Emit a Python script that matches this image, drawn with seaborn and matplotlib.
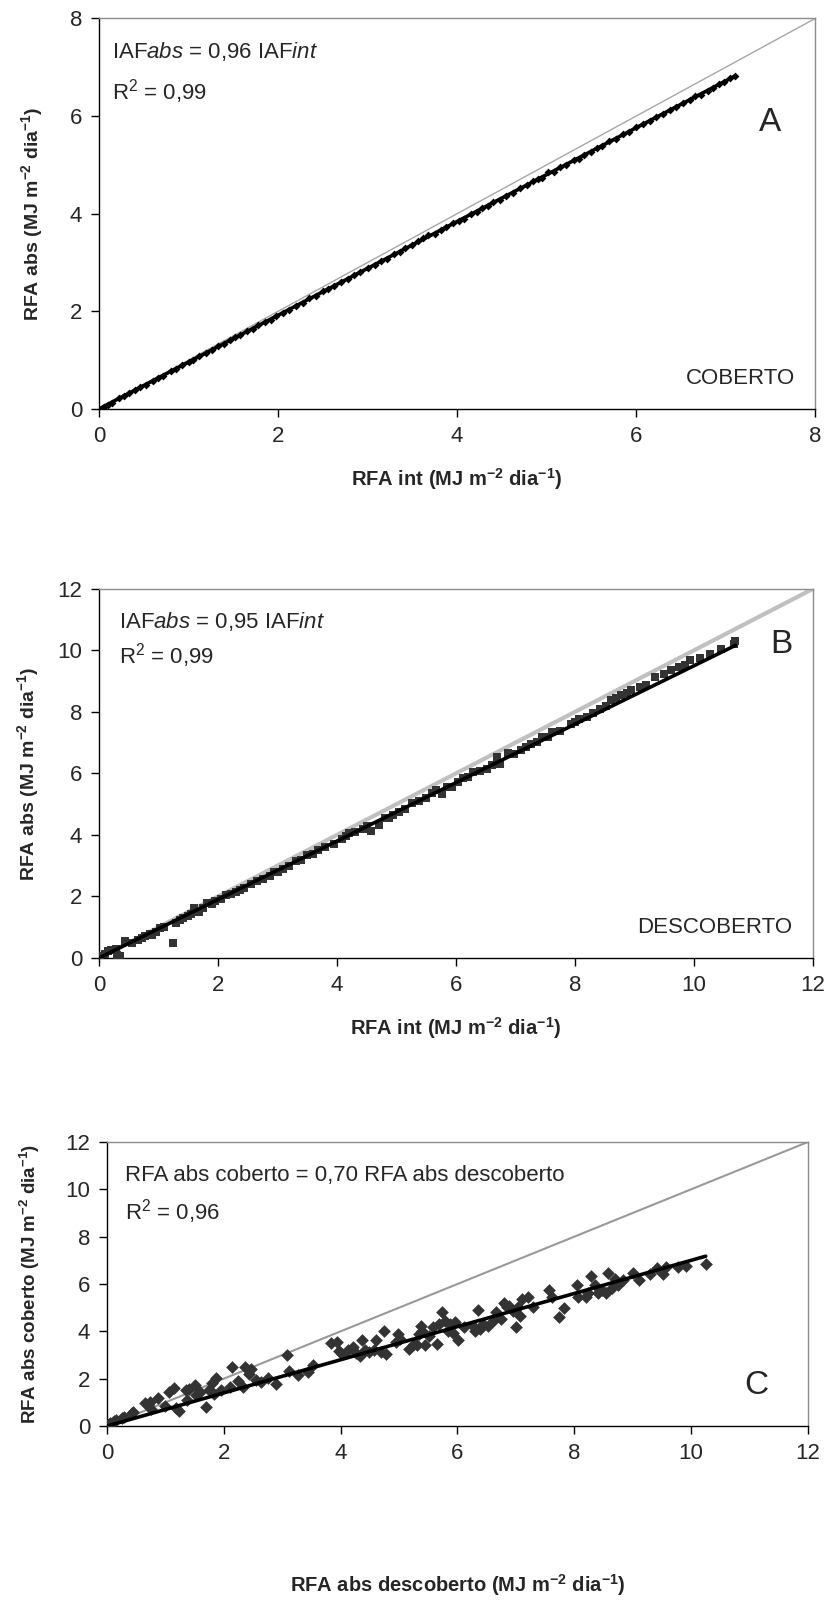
import matplotlib
matplotlib.use("Agg")
import matplotlib.pyplot as plt
import seaborn as sns
import numpy as np
import pandas as pd

# ---------------- DATA ----------------
# Panel A (COBERTO): RFA int vs RFA abs
a_x = [0.05, 0.10, 0.15, 0.22, 0.28, 0.33, 0.40, 0.46, 0.52, 0.60, 0.66, 0.72, 0.80, 0.86, 0.93,
       1.00, 1.05, 1.12, 1.20, 1.26, 1.33, 1.40, 1.46, 1.52, 1.58, 1.65, 1.72, 1.78, 1.85, 1.92,
       1.98, 2.05, 2.12, 2.20, 2.28, 2.35, 2.42, 2.50, 2.56, 2.62, 2.70, 2.78, 2.85, 2.92, 3.00,
       3.08, 3.15, 3.22, 3.30, 3.36, 3.42, 3.50, 3.56, 3.62, 3.68, 3.75, 3.82, 3.88, 3.95, 4.02,
       4.08, 4.15, 4.22, 4.28, 4.35, 4.40, 4.48, 4.55, 4.62, 4.70, 4.78, 4.85, 4.90, 4.95, 5.02,
       5.08, 5.15, 5.22, 5.30, 5.36, 5.42, 5.50, 5.56, 5.62, 5.70, 5.78, 5.85, 5.92, 6.00, 6.08,
       6.15, 6.22, 6.30, 6.38, 6.45, 6.52, 6.60, 6.66, 6.72, 6.80, 6.86, 6.92, 6.98, 7.05, 7.10]
a_y = [0.03, 0.09, 0.13, 0.22, 0.26, 0.33, 0.38, 0.45, 0.49, 0.58, 0.64, 0.68, 0.78, 0.82, 0.89,
       0.96, 1.00, 1.08, 1.14, 1.21, 1.29, 1.33, 1.42, 1.48, 1.51, 1.60, 1.64, 1.71, 1.79, 1.83,
       1.90, 1.97, 2.02, 2.11, 2.18, 2.27, 2.31, 2.42, 2.45, 2.51, 2.60, 2.66, 2.74, 2.80, 2.89,
       2.94, 3.03, 3.08, 3.18, 3.22, 3.30, 3.36, 3.44, 3.50, 3.56, 3.58, 3.66, 3.72, 3.80, 3.86,
       3.90, 4.00, 4.03, 4.12, 4.16, 4.24, 4.29, 4.37, 4.42, 4.52, 4.58, 4.66, 4.72, 4.74, 4.86,
       4.86, 4.95, 5.00, 5.10, 5.13, 5.21, 5.27, 5.35, 5.38, 5.48, 5.54, 5.63, 5.68, 5.77, 5.84,
       5.90, 5.98, 6.04, 6.13, 6.18, 6.27, 6.32, 6.42, 6.44, 6.52, 6.58, 6.65, 6.69, 6.77, 6.82]
a_slope = 0.96
a_xmax = 7.1

# Panel B (DESCOBERTO)
b_x = [0.02, 0.10, 0.15, 0.20, 0.28, 0.31, 0.35, 0.44, 0.55, 0.66, 0.72, 0.78, 0.85, 0.89, 0.95,
       1.02, 1.10, 1.24, 1.29, 1.36, 1.42, 1.50, 1.55, 1.60, 1.68, 1.75, 1.82, 1.90, 1.95, 2.05,
       2.13, 2.22, 2.30, 2.37, 2.44, 2.55, 2.66, 2.75, 2.88, 2.95, 3.01, 3.10, 3.20, 3.32, 3.40,
       3.50, 3.60, 3.68, 3.80, 3.95, 4.08, 4.15, 4.21, 4.30, 4.43, 4.50, 4.57, 4.70, 4.80, 4.88,
       4.95, 5.05, 5.15, 5.27, 5.38, 5.50, 5.60, 5.67, 5.76, 5.85, 5.94, 6.03, 6.12, 6.20, 6.29,
       6.40, 6.52, 6.60, 6.69, 6.74, 6.87, 6.98, 7.09, 7.18, 7.27, 7.36, 7.45, 7.55, 7.62, 7.75,
       7.93, 8.00, 8.07, 8.20, 8.30, 8.42, 8.52, 8.60, 8.70, 8.78, 8.88, 8.95, 9.09, 9.20, 9.35,
       9.50, 9.62, 9.75, 9.85, 9.93, 10.10, 10.28, 10.45, 10.68, 10.70]
b_y = [0.05, 0.12, 0.22, 0.25, 0.28, 0.11, 0.05, 0.54, 0.50, 0.59, 0.66, 0.70, 0.78, 0.76, 0.86,
       0.97, 1.02, 0.49, 1.14, 1.25, 1.30, 1.38, 1.42, 1.62, 1.51, 1.64, 1.78, 1.74, 1.84, 1.92,
       2.05, 2.08, 2.16, 2.22, 2.27, 2.40, 2.49, 2.58, 2.65, 2.78, 2.81, 2.90, 3.00, 3.14, 3.18,
       3.35, 3.38, 3.51, 3.62, 3.70, 3.86, 3.96, 4.05, 4.10, 4.18, 4.28, 4.14, 4.32, 4.55, 4.54,
       4.66, 4.76, 4.86, 5.05, 5.10, 5.19, 5.35, 5.46, 5.33, 5.56, 5.57, 5.72, 5.84, 5.88, 6.05,
       6.09, 6.14, 6.28, 6.54, 6.30, 6.65, 6.64, 6.76, 6.86, 6.97, 7.02, 7.19, 7.20, 7.35, 7.38,
       7.62, 7.66, 7.78, 7.84, 7.96, 8.11, 8.20, 8.38, 8.44, 8.54, 8.62, 8.70, 8.81, 8.88, 9.14,
       9.22, 9.35, 9.46, 9.52, 9.68, 9.74, 9.89, 10.05, 10.22, 10.32]
b_slope = 0.95
b_xmax = 10.7

# Panel C (coberto vs descoberto)
c_x = [0.03, 0.06, 0.12, 0.15, 0.25, 0.29, 0.42, 0.45, 0.65, 0.70, 0.74, 0.76, 0.88, 1.00, 1.06,
       1.15, 1.19, 1.24, 1.35, 1.37, 1.40, 1.51, 1.53, 1.60, 1.69, 1.74, 1.80, 1.83, 1.87, 1.96,
       2.10, 2.14, 2.25, 2.32, 2.37, 2.43, 2.46, 2.55, 2.64, 2.75, 2.89, 3.09, 3.12, 3.27, 3.44,
       3.52, 3.84, 3.93, 3.97, 4.02, 4.13, 4.22, 4.27, 4.33, 4.37, 4.42, 4.49, 4.57, 4.61, 4.69,
       4.75, 4.78, 4.95, 4.99, 5.02, 5.17, 5.26, 5.31, 5.35, 5.37, 5.40, 5.44, 5.51, 5.58, 5.65,
       5.69, 5.74, 5.78, 5.83, 5.87, 5.92, 5.96, 6.01, 6.12, 6.26, 6.30, 6.35, 6.39, 6.44, 6.53,
       6.62, 6.66, 6.75, 6.80, 6.84, 6.89, 6.95, 7.01, 7.03, 7.07, 7.10, 7.21, 7.30, 7.57, 7.61,
       7.73, 7.82, 8.04, 8.07, 8.20, 8.24, 8.29, 8.36, 8.41, 8.47, 8.54, 8.58, 8.65, 8.70, 8.74,
       8.83, 9.01, 9.10, 9.29, 9.42, 9.51, 9.57, 9.78, 9.92, 10.25]
c_y = [0.10, 0.13, 0.20, 0.24, 0.33, 0.40, 0.55, 0.61, 0.99, 0.90, 1.01, 0.70, 1.18, 0.83, 1.42,
       1.61, 0.78, 0.65, 1.53, 1.10, 1.58, 1.74, 1.31, 1.42, 0.80, 1.53, 1.80, 1.37, 2.01, 1.53,
       1.64, 2.48, 1.91, 1.64, 2.48, 2.20, 2.39, 1.93, 1.85, 2.01, 1.77, 3.00, 2.34, 2.17, 2.28,
       2.58, 3.49, 3.57, 3.16, 3.04, 3.23, 3.34, 3.09, 2.95, 3.63, 3.23, 3.14, 3.20, 3.63, 3.14,
       4.00, 3.06, 3.57, 3.90, 3.68, 3.25, 3.47, 3.41, 3.90, 4.24, 4.00, 3.41, 3.79, 4.17, 3.47,
       4.33, 4.81, 4.44, 4.00, 4.33, 3.95, 4.38, 3.63, 4.17, 4.22, 4.00, 4.92, 4.11, 4.33, 4.22,
       4.46, 4.81, 4.52, 5.19, 5.03, 5.08, 4.84, 4.17, 5.03, 4.65, 5.35, 5.46, 5.03, 5.73, 5.43,
       4.60, 4.97, 5.96, 5.46, 5.46, 5.62, 6.32, 5.94, 5.62, 5.73, 5.64, 6.46, 5.84, 6.21, 5.96,
       6.16, 6.48, 6.18, 6.43, 6.67, 6.43, 6.72, 6.72, 6.75, 6.86]
c_slope = 0.70
c_xmax = 10.25

# ---------------- STYLE ----------------
sns.set_theme(style="white")
FONT = ["Liberation Sans", "Arial", "DejaVu Sans"]
plt.rcParams["font.family"] = FONT
plt.rcParams["mathtext.fontset"] = "custom"
plt.rcParams["mathtext.rm"] = "Liberation Sans"
plt.rcParams["mathtext.it"] = "Liberation Sans:italic"
plt.rcParams["mathtext.bf"] = "Liberation Sans:bold"
plt.rcParams["mathtext.default"] = "rm"

fig = plt.figure(figsize=(8.28, 16.03), dpi=100)

def style_axes(ax, lim):
    ax.set_xlim(0, lim)
    ax.set_ylim(0, lim)
    ax.set_xticks(np.arange(0, lim + 0.01, 2))
    ax.set_yticks(np.arange(0, lim + 0.01, 2))
    for s in ["left", "bottom"]:
        ax.spines[s].set_color("black")
        ax.spines[s].set_linewidth(1.0)
    for s in ["top", "right"]:
        ax.spines[s].set_color("#8c8c8c")
        ax.spines[s].set_linewidth(1.0)
    ax.tick_params(axis="both", which="major", direction="out", length=6, width=1,
                   color="black", labelsize=16, pad=6, bottom=True, left=True)
    ax.set_facecolor("white")

SUP = r" (MJ m$^{\mathbf{-2}}$ dia$^{\mathbf{-1}}$)"

# ---------- Panel A ----------
axA = fig.add_axes([0.1196, 0.7449, 0.865, 0.2436])
style_axes(axA, 8)
sns.lineplot(x=[0, 8], y=[0, 8], ax=axA, color="#a6a6a6", lw=1.0, zorder=1)
sns.scatterplot(x=a_x, y=a_y, ax=axA, marker="D", s=16, color="black", edgecolor="black",
                linewidth=0, zorder=3)
sns.lineplot(x=[0, a_xmax], y=[0, a_slope * a_xmax], ax=axA, color="black", lw=2.6, zorder=2)
axA.text(0.15, 7.33, r"IAF$\mathit{abs}$ = 0,96 IAF$\mathit{int}$", fontsize=16, va="center", ha="left")
axA.text(0.15, 6.50, r"R$^2$ = 0,99", fontsize=16, va="center", ha="left")
axA.text(7.49, 5.86, "A", fontsize=24, va="center", ha="center")
axA.text(7.77, 0.63, "COBERTO", fontsize=16, va="center", ha="right")
axA.set_xlabel("RFA int" + SUP, fontsize=14.5, fontweight="bold", labelpad=14)
axA.set_ylabel("RFA abs" + SUP, fontsize=14, fontweight="bold", labelpad=18)

# ---------- Panel B ----------
axB = fig.add_axes([0.1196, 0.4024, 0.862, 0.2302])
style_axes(axB, 12)
sns.lineplot(x=[0, 12], y=[0, 12], ax=axB, color="#c0c0c0", lw=3.0, zorder=1)
sns.scatterplot(x=b_x, y=b_y, ax=axB, marker="s", s=30, color="#333333", edgecolor="#333333",
                linewidth=0, zorder=3)
sns.lineplot(x=[0, b_xmax], y=[0, b_slope * b_xmax], ax=axB, color="black", lw=2.6, zorder=4)
axB.text(0.34, 10.94, r"IAF$\mathit{abs}$ = 0,95 IAF$\mathit{int}$", fontsize=16, va="center", ha="left")
axB.text(0.34, 9.85, r"R$^2$ = 0,99", fontsize=16, va="center", ha="left")
axB.text(11.48, 10.2, "B", fontsize=24, va="center", ha="center")
axB.text(11.66, 1.0, "DESCOBERTO", fontsize=16, va="center", ha="right")
axB.set_xlabel("RFA int" + SUP, fontsize=14.5, fontweight="bold", labelpad=14)
axB.set_ylabel("RFA abs" + SUP, fontsize=14, fontweight="bold", labelpad=12)

# ---------- Panel C ----------
axC = fig.add_axes([0.1292, 0.1104, 0.8466, 0.1772])
style_axes(axC, 12)
sns.lineplot(x=[0, 12], y=[0, 12], ax=axC, color="#999999", lw=1.5, zorder=1)
sns.scatterplot(x=c_x, y=c_y, ax=axC, marker="D", s=42, color="#333333", edgecolor="#333333",
                linewidth=0, zorder=3)
sns.lineplot(x=[0, c_xmax], y=[0, c_slope * c_xmax], ax=axC, color="black", lw=2.6, zorder=4)
axC.text(0.30, 10.58, "RFA abs coberto = 0,70 RFA abs descoberto", fontsize=16, va="center", ha="left")
axC.text(0.30, 9.05, r"R$^2$ = 0,96", fontsize=16, va="center", ha="left")
axC.text(11.12, 1.73, "C", fontsize=24, va="center", ha="center")
axC.set_xlabel("RFA abs descoberto" + SUP, fontsize=14.5, fontweight="bold", labelpad=78)
axC.set_ylabel("RFA abs coberto" + SUP, fontsize=13.5, fontweight="bold", labelpad=17)

for ax in (axA, axB, axC):
    if ax.get_legend() is not None:
        ax.get_legend().remove()

fig.savefig("out.png", dpi=100, facecolor="white")
